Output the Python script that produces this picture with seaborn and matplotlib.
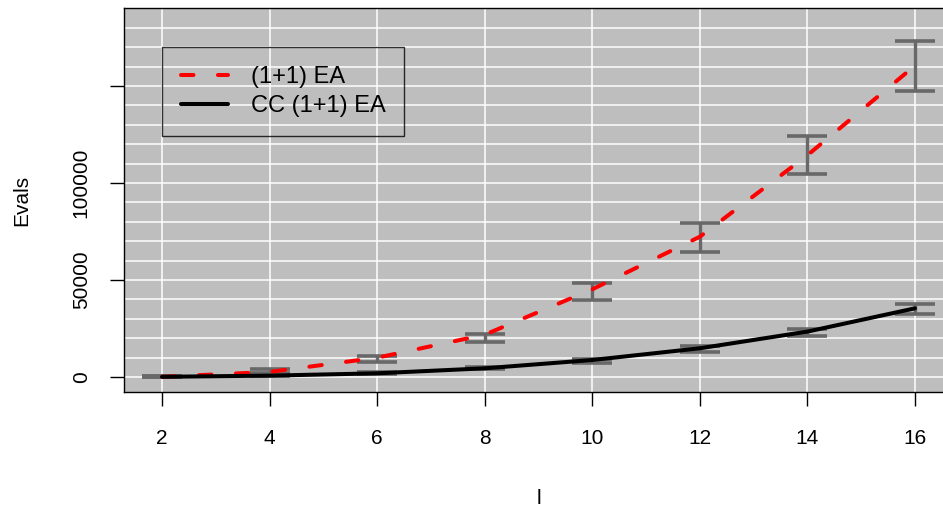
import matplotlib
matplotlib.use("Agg")
import matplotlib.pyplot as plt
import seaborn as sns
import pandas as pd

# problem size
l_values = [2, 4, 6, 8, 10, 12, 14, 16]

# (1+1) EA: mean evaluations and error bar ends
ea_mean = [100, 2600, 9950, 21800, 45200, 72300, 114300, 160500]
ea_low = [0, 2200, 7900, 18000, 39700, 64600, 104500, 147400]
ea_high = [300, 4000, 10800, 22200, 48300, 79500, 124400, 173200]

# CC (1+1) EA
cc_mean = [100, 700, 1900, 4480, 8760, 14800, 23400, 35400]
cc_low = [0, 600, 1800, 4200, 7400, 13000, 21100, 32500]
cc_high = [300, 1200, 2800, 5400, 9400, 16100, 24600, 37500]

y_ticks = [0, 50000, 100000, 150000]
y_tick_labels = ["0", "50000", "100000", ""]

sns.set_theme(style="white")
plt.rcParams["font.family"] = ["Liberation Sans", "DejaVu Sans"]
plt.rcParams["text.color"] = "black"
plt.rcParams["axes.labelcolor"] = "black"
plt.rcParams["xtick.color"] = "black"
plt.rcParams["ytick.color"] = "black"
plt.rcParams["lines.scale_dashes"] = False
plt.rcParams["lines.dash_capstyle"] = "round"
plt.rcParams["lines.solid_capstyle"] = "round"

df_ea = pd.DataFrame({"l": l_values, "Evals": ea_mean})
df_cc = pd.DataFrame({"l": l_values, "Evals": cc_mean})

fig = plt.figure(figsize=(9.43, 5.08), dpi=100)
ax = fig.add_axes([124 / 943, 1 - 392 / 508, 820 / 943, 384 / 508])
ax.set_facecolor("#BEBEBE")

# grid, drawn below everything
ax.set_axisbelow(True)
ax.set_yticks(range(0, 190001, 10000), minor=True)
ax.grid(True, which="both", color="white", linewidth=1.1)

# error bars
gray = "#686868"
for mean, low, high in [(ea_mean, ea_low, ea_high), (cc_mean, cc_low, cc_high)]:
    ax.errorbar(l_values, mean,
                yerr=[[m - lo for m, lo in zip(mean, low)],
                      [hi - m for m, hi in zip(mean, high)]],
                fmt="none", ecolor=gray, elinewidth=2.4, capsize=14.4,
                capthick=2.6, zorder=2)

sns.lineplot(data=df_ea, x="l", y="Evals", color="red", linewidth=2.9,
             linestyle=(0, (9, 17.6)), label="(1+1) EA", ax=ax, zorder=3)
sns.lineplot(data=df_cc, x="l", y="Evals", color="black", linewidth=2.9,
             label="CC (1+1) EA", ax=ax, zorder=3)

ax.set_xlim(1.2925, 16.54)
ax.set_ylim(-7732, 190206)

ax.set_xticks(range(2, 17, 2))
ax.set_xticklabels([str(v) for v in range(2, 17, 2)])
ax.set_yticks(y_ticks)
ax.set_yticklabels(y_tick_labels, rotation=90, va="center")
ax.tick_params(axis="both", which="major", length=10, width=1,
               labelsize=15, direction="out", left=True, bottom=True)
ax.tick_params(axis="x", pad=17)
ax.tick_params(axis="y", pad=14)
ax.tick_params(which="minor", length=0)

for s in ax.spines.values():
    s.set_color("black")
    s.set_linewidth(1.0)

ax.set_xlabel("l", fontsize=15, va="center")
ax.xaxis.set_label_coords((538 - 124) / 818, (392 - 498) / 384)
ax.set_ylabel("Evals", fontsize=15, va="center")
ax.yaxis.set_label_coords((22 - 124) / 818, 0.5)

leg = ax.legend(loc="upper left",
                bbox_to_anchor=((162 - 124) / 818, (392 - 47) / 384, (403 - 162) / 818, 0.0),
                mode="expand", borderaxespad=0, fontsize=17, handlelength=2.0,
                handletextpad=0.95, labelspacing=0.3, borderpad=0.8,
                fancybox=False, frameon=True)
leg.get_frame().set_edgecolor("black")
leg.get_frame().set_facecolor("none")
leg.get_frame().set_linewidth(1.0)

fig.savefig("out.png", dpi=100)
